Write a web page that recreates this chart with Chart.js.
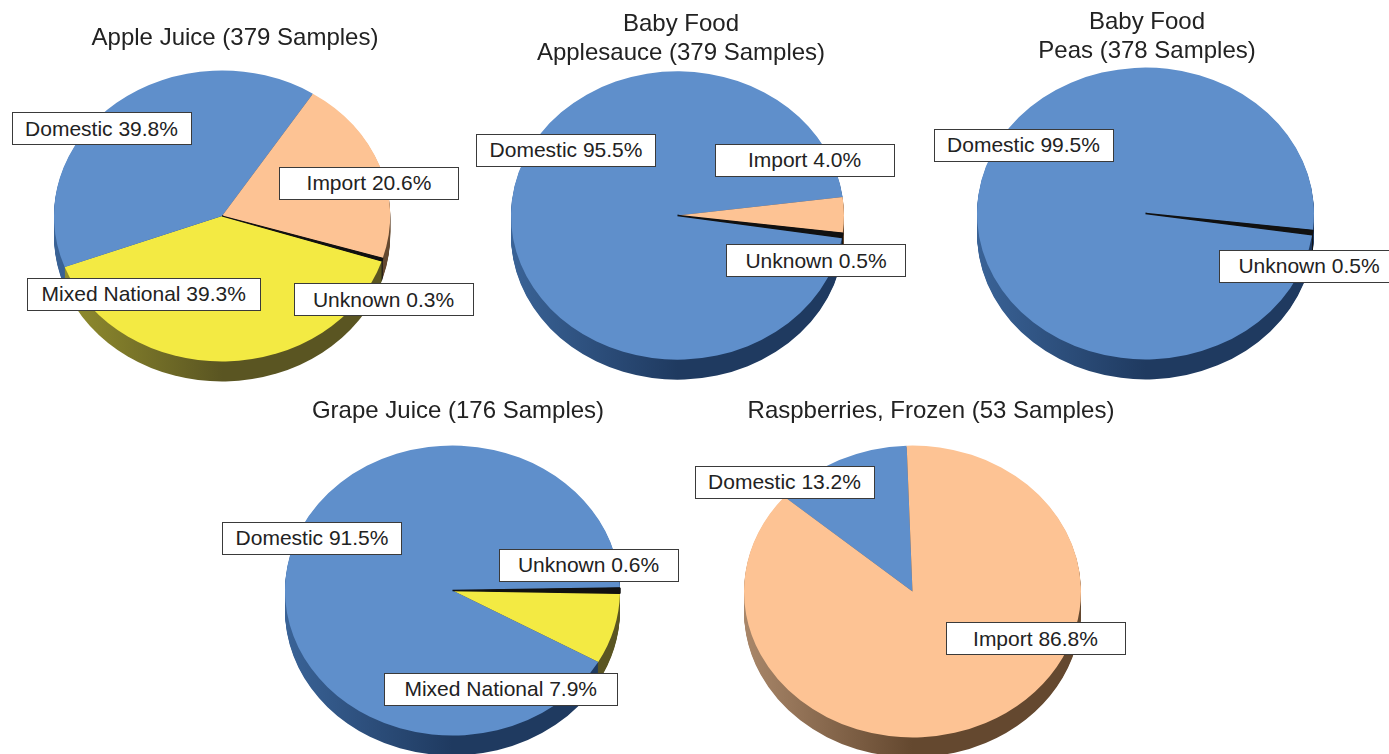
<!DOCTYPE html>
<html>
<head>
<meta charset="utf-8">
<title>Pie charts</title>
<script src="https://cdn.jsdelivr.net/npm/chart.js@4/dist/chart.umd.min.js"></script>
<style>
  html, body { margin: 0; padding: 0; background: #fff; width: 1389px; height: 754px; overflow: hidden; }
  canvas { position: absolute; }
  .title { position: absolute; transform: translateX(-50%); white-space: pre; text-align: center;
           font: 24px/29px "Liberation Sans", Arial, sans-serif; color: #222; z-index: 5; }
  .tag { position: absolute; box-sizing: border-box; background: #fff; border: 1.5px solid #3a3a3a;
         display: flex; align-items: center; justify-content: center; white-space: pre;
         font: 21px "Liberation Sans", Arial, sans-serif; color: #222; z-index: 6; }
</style>
</head>
<body>
<script>
// Chart titles
const appleJuiceTitle = 'Apple Juice (379 Samples)';
const applesauceTitle = 'Baby Food\nApplesauce (379 Samples)';
const peasTitle = 'Baby Food\nPeas (378 Samples)';
const grapeJuiceTitle = 'Grape Juice (176 Samples)';
const raspberriesTitle = 'Raspberries, Frozen (53 Samples)';

// Categories and values, in clockwise drawing order
const appleJuiceCategories = ['Mixed National', 'Domestic', 'Import', 'Unknown'];
const appleJuiceValues = [39.3, 39.8, 20.6, 0.3];
const applesauceCategories = ['Domestic', 'Import', 'Unknown'];
const applesauceValues = [95.5, 4.0, 0.5];
const peasCategories = ['Domestic', 'Unknown'];
const peasValues = [99.5, 0.5];
const grapeJuiceCategories = ['Mixed National', 'Domestic', 'Unknown'];
const grapeJuiceValues = [7.9, 91.5, 0.6];
const raspberriesCategories = ['Domestic', 'Import'];
const raspberriesValues = [13.2, 86.8];

// Styling
const faceColors = { 'Domestic': '#5f8fcb', 'Import': '#fdc394', 'Mixed National': '#f3ea43', 'Unknown': '#111111' };
const sideColors = {
  'Domestic': ['#3a6397', '#1f3a60'],
  'Import': ['#a9876a', '#64482f'],
  'Mixed National': ['#96922f', '#5a5522'],
  'Unknown': ['#111111', '#111111']
};
const TILT = 0.866, DEPTH = 20, MARGIN = 20, SLIVER = 1.5;

// Layout of each pie: centre, radius, rotation, title and label-box placement
const pies = [
  { title: appleJuiceTitle, cats: appleJuiceCategories, vals: appleJuiceValues, cx: 222, cy: 216, r: 168, rot: 108,
    tx: 235, ty: 21.5,
    tags: { 'Domestic': [11.5, 112, 180, 33], 'Import': [279, 166.5, 180, 33], 'Mixed National': [26.5, 277.5, 234.5, 33], 'Unknown': [293.5, 283, 180, 33] } },
  { title: applesauceTitle, cats: applesauceCategories, vals: applesauceValues, cx: 677.5, cy: 215, r: 166.5, rot: 98.8,
    tx: 681, ty: 7.5,
    tags: { 'Domestic': [476, 133.5, 180, 33], 'Import': [714.5, 143.5, 180, 33], 'Unknown': [726, 244, 180, 33] } },
  { title: peasTitle, cats: peasCategories, vals: peasValues, cx: 1145.5, cy: 213.5, r: 168.5, rot: 98.4,
    tx: 1147, ty: 5.5,
    tags: { 'Domestic': [933.5, 128.5, 180, 33], 'Unknown': [1219, 249.5, 180, 33] } },
  { title: grapeJuiceTitle, cats: grapeJuiceCategories, vals: grapeJuiceValues, cx: 452.5, cy: 590, r: 167.5, rot: 91.1,
    tx: 458, ty: 394.5,
    tags: { 'Domestic': [222, 521.5, 180, 33], 'Unknown': [498.5, 548.5, 180, 33], 'Mixed National': [383.5, 672.5, 234.5, 33] } },
  { title: raspberriesTitle, cats: raspberriesCategories, vals: raspberriesValues, cx: 912.5, cy: 591.5, r: 168.5, rot: 310.5,
    tx: 931, ty: 394.5,
    tags: { 'Domestic': [694.5, 465.5, 180, 33], 'Import': [945.5, 622, 180, 33] } }
];

// Flattens a pie into an ellipse and extrudes its rim downward, using the library's own arc elements.
const tiltedPie = {
  id: 'tiltedPie',
  beforeDatasetsDraw(chart) {
    const ctx = chart.ctx;
    const arcs = chart.getDatasetMeta(0).data;
    const cats = chart.data.labels;
    const { x, y } = arcs[0];
    const r = arcs[0].outerRadius;
    const place = (dy) => { ctx.translate(x, y + dy); ctx.scale(1, TILT); ctx.translate(-x, -y); };
    const fills = cats.map((c) => {
      const g = ctx.createLinearGradient(x - r, 0, x + r, 0);
      g.addColorStop(0, sideColors[c][0]);
      g.addColorStop(0.5, sideColors[c][1]);
      g.addColorStop(1, sideColors[c][1]);
      return g;
    });
    for (let d = DEPTH; d >= 1; d--) {
      ctx.save();
      place(d);
      arcs.forEach((arc, i) => {
        const saved = arc.options;
        arc.options = { ...saved, backgroundColor: fills[i], borderWidth: 0 };
        arc.draw(ctx);
        arc.options = saved;
      });
      ctx.restore();
    }
    ctx.save();
    place(0);
  },
  afterDatasetsDraw(chart) {
    chart.ctx.restore();
  }
};

pies.forEach((p) => {
  const hasSliver = p.cats.includes('Unknown');
  const pad = MARGIN - (hasSliver ? SLIVER / 2 : 0);
  const size = Math.round(2 * p.r + 2 * MARGIN);
  const canvas = document.createElement('canvas');
  canvas.width = size;
  canvas.height = size;
  canvas.style.left = (p.cx - size / 2) + 'px';
  canvas.style.top = (p.cy - size / 2) + 'px';
  canvas.style.width = size + 'px';
  canvas.style.height = size + 'px';
  document.body.appendChild(canvas);

  new Chart(canvas, {
    type: 'pie',
    plugins: [tiltedPie],
    data: {
      labels: p.cats,
      datasets: [{
        data: p.vals,
        backgroundColor: p.cats.map((c) => faceColors[c]),
        borderColor: faceColors['Unknown'],
        borderWidth: p.cats.map((c) => (c === 'Unknown' ? SLIVER : 0)),
        clip: false
      }]
    },
    options: {
      responsive: false,
      animation: false,
      rotation: p.rot,
      layout: { padding: pad },
      events: [],
      plugins: { legend: { display: false }, tooltip: { enabled: false }, title: { display: false } }
    }
  });

  const t = document.createElement('div');
  t.className = 'title';
  t.textContent = p.title;
  t.style.left = p.tx + 'px';
  t.style.top = p.ty + 'px';
  document.body.appendChild(t);

  p.cats.forEach((c, i) => {
    const [x, y, w, h] = p.tags[c];
    const d = document.createElement('div');
    d.className = 'tag';
    d.textContent = c + ' ' + p.vals[i].toFixed(1) + '%';
    d.style.left = x + 'px';
    d.style.top = y + 'px';
    d.style.width = w + 'px';
    d.style.height = h + 'px';
    document.body.appendChild(d);
  });
});
</script>
</body>
</html>
